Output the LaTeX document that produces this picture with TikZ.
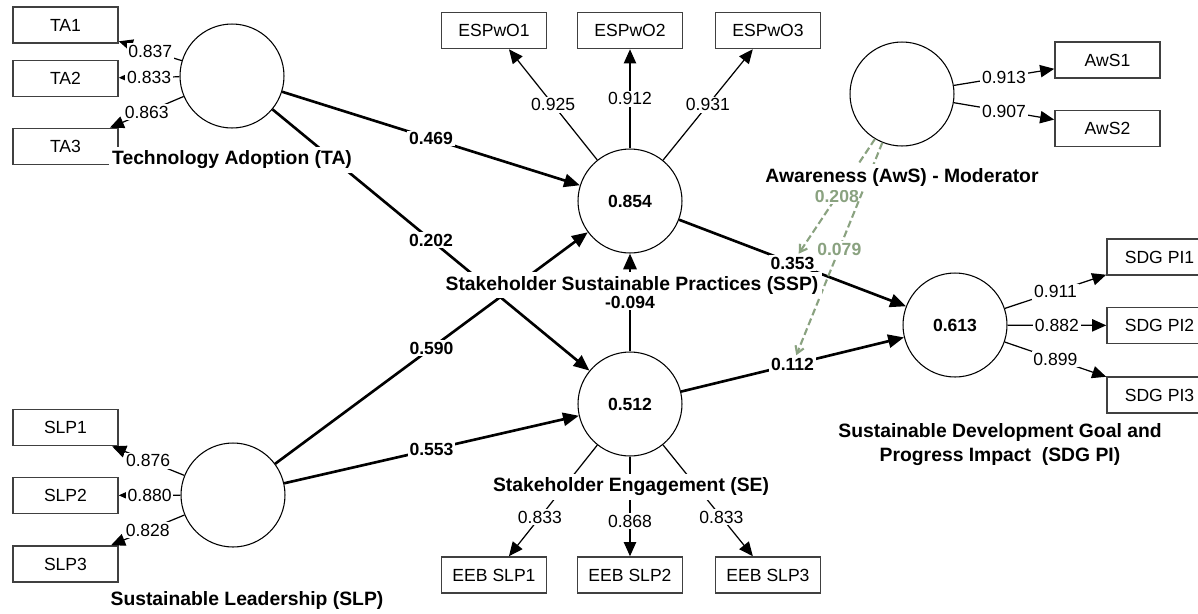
\documentclass[tikz,border=0pt]{standalone}
\usepackage{fontspec}
\setmainfont{Liberation Sans}
\usetikzlibrary{arrows.meta}
\definecolor{modgreen}{RGB}{138,162,128}

\begin{document}
\begin{tikzpicture}[x=0.02cm,y=-0.02cm,
  latent/.style={circle,draw,line width=0.6pt,minimum size=2.08cm,inner sep=0pt,font=\fontsize{10}{12}\selectfont\bfseries},
  item/.style={draw=black!75,line width=0.9pt,minimum width=2.1cm,minimum height=0.72cm,inner sep=0pt,font=\fontsize{10}{12}\selectfont},
  inner/.style={line width=1.5pt,-{Triangle[length=9pt,width=7.5pt]}},
  outer/.style={line width=0.7pt,-{Triangle[length=8pt,width=7pt]}},
  modline/.style={modgreen,line width=1.2pt,dash pattern=on 4pt off 2pt,-{Straight Barb[length=4pt,width=5pt]}},
  coef/.style={fill=white,inner sep=1pt,font=\fontsize{10}{12}\selectfont\bfseries},
  load/.style={fill=white,inner sep=1pt,font=\fontsize{10}{12}\selectfont},
  modcoef/.style={coef,text=modgreen},
  title/.style={fill=white,inner sep=2pt,font=\fontsize{11}{14}\selectfont\bfseries}]
\useasboundingbox (0,0) rectangle (1198,613);

% latent variables
\node[latent] (ta) at (232,76) {};
\node[latent] (slp) at (233,495) {};
\node[latent] (ssp) at (630,201) {0.854};
\node[latent] (se) at (630,404) {0.512};
\node[latent] (aws) at (902,94) {};
\node[latent] (sdg) at (955,325) {0.613};

% indicators
\node[item] (ta1) at (65.5,25) {TA1};
\node[item] (ta2) at (65.5,78.5) {TA2};
\node[item] (ta3) at (65.5,146.5) {TA3};
\node[item] (slp1) at (65.5,427.5) {SLP1};
\node[item] (slp2) at (65.5,495.5) {SLP2};
\node[item] (slp3) at (65.5,564) {SLP3};
\node[item] (espwo1) at (494,30.5) {ESPwO1};
\node[item] (espwo2) at (630,30.5) {ESPwO2};
\node[item] (espwo3) at (768,30.5) {ESPwO3};
\node[item] (eeb1) at (494,575) {EEB SLP1};
\node[item] (eeb2) at (630,575) {EEB SLP2};
\node[item] (eeb3) at (768,575) {EEB SLP3};
\node[item] (aws1) at (1107.5,60) {AwS1};
\node[item] (aws2) at (1107.5,128.5) {AwS2};
\node[item] (sdg1) at (1159.5,257) {SDG PI1};
\node[item] (sdg2) at (1159.5,325.5) {SDG PI2};
\node[item] (sdg3) at (1159.5,395) {SDG PI3};

% outer loadings
\draw[outer] (ta) -- node[load] {0.837} (ta1);
\draw[outer] (ta) -- node[load] {0.833} (ta2);
\draw[outer] (ta) -- node[load] {0.863} (ta3);
\draw[outer] (slp) -- node[load] {0.876} (slp1);
\draw[outer] (slp) -- node[load] {0.880} (slp2);
\draw[outer] (slp) -- node[load] {0.828} (slp3);
\draw[outer] (ssp) -- node[load] {0.925} (espwo1);
\draw[outer] (ssp) -- node[load] {0.912} (espwo2);
\draw[outer] (ssp) -- node[load] {0.931} (espwo3);
\draw[outer] (se) -- node[load,pos=0.65] {0.833} (eeb1);
\draw[outer] (se) -- node[load,pos=0.65] {0.868} (eeb2);
\draw[outer] (se) -- node[load,pos=0.65] {0.833} (eeb3);
\draw[outer] (aws) -- node[load] {0.913} (aws1);
\draw[outer] (aws) -- node[load] {0.907} (aws2);
\draw[outer] (sdg) -- node[load] {0.911} (sdg1);
\draw[outer] (sdg) -- node[load] {0.882} (sdg2);
\draw[outer] (sdg) -- node[load] {0.899} (sdg3);

% inner model
\draw[inner] (ta) -- node[coef] {0.469} (ssp);
\draw[inner] (ta) -- node[coef] {0.202} (se);
\draw[inner] (slp) -- node[coef] {0.590} (ssp);
\draw[inner] (slp) -- node[coef] {0.553} (se);
\draw[inner] (ssp) -- node[coef] (c353) {0.353} (sdg);
\draw[inner] (se) -- node[coef] (c112) {0.112} (sdg);
\draw[inner] (se) -- (ssp);

% moderating effects
\draw[modline] (aws.239) -- node[modcoef] {0.208} (c353);
\draw[modline] (aws.248) -- node[modcoef] {0.079} (c112);

% construct names
\node[title] (ta-t) at (232,160) {Technology Adoption (TA)};
\node[title] (slp-t) at (247,600) {Sustainable Leadership (SLP)};
\node[title] (ssp-t) at (632,285) {Stakeholder Sustainable Practices (SSP)};
\node[title] (se-t) at (631,487) {Stakeholder Engagement (SE)};
\node[title] (aws-t) at (902,177) {Awareness (AwS) - Moderator};
\node[title,align=center] (sdg-t) at (1000,444.5) {Sustainable Development Goal and\\Progress Impact~~(SDG PI)};

\path (se) -- node[coef] {-0.094} (ssp);
\end{tikzpicture}
\end{document}
